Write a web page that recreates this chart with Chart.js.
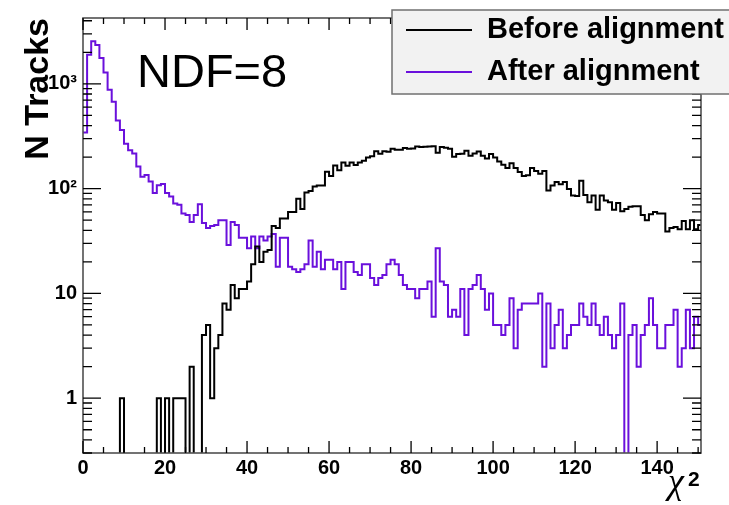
<!DOCTYPE html>
<html>
<head>
<meta charset="utf-8">
<script src="https://cdn.jsdelivr.net/npm/chart.js@4/dist/chart.umd.min.js"></script>
<style>
html,body{margin:0;padding:0;background:#ffffff;}
#wrap{width:729px;height:505px;position:relative;overflow:hidden;}
</style>
</head>
<body>
<div id="wrap"><canvas id="c" width="729" height="505"></canvas></div>
<script>
// ---- data (chi2 histogram, 1-unit bins starting at 0) ----
const seriesLabels = ['Before alignment', 'After alignment'];
const seriesColors = ['#000000', '#6a10dc'];

const beforeCounts = [
  0,0,0,0,0,0,0,0,0,1,
  0,0,0,0,0,0,0,0,1,0,
  1,0,1,1,1,0,2,0,0,4,
  5,1,3,4,8,7,12,9,11,11,
  13,19,28,20,25,26,44,42,52,52,
  60,60,80,64,92,95,105,107,107,145,
  132,166,150,178,165,178,168,178,185,198,
  204,228,215,228,225,240,235,235,244,240,
  242,252,250,251,252,254,220,250,246,240,
  202,214,215,230,206,216,226,206,194,214,
  198,182,169,157,175,157,144,132,134,157,
  147,139,147,96,107,116,110,116,99,86,
  85,119,87,74,86,63,86,77,74,63,
  73,61,64,67,68,68,56,50,57,60,
  58,58,39,42,43,41,49,41,50,41,
  45
];

const afterCounts = [
  344,1895,2555,2345,1763,1280,880,675,448,362,
  268,233,217,163,130,135,117,91,108,111,
  91,84,72,70,58,56,48,56,71,47,
  42,44,45,50,50,29,48,45,34,34,
  27,35,27,35,32,35,37,18,34,34,
  18,17,16,17,19,32,18,25,17,21,
  21,17,20,11,20,20,16,15,19,19,
  14,12,14,15,19,21,19,15,12,11,
  11,9,11,11,13,6,27,13,12,6,
  7,6,11,4,11,12,15,11,7,10,
  5,5,4,5,9,3,7,8,8,8,
  8,10,2,8,3,5,7,3,4,5,
  5,8,6,5,8,5,4,6,4,3,
  4,8,0,4,5,2,4,5,9,5,
  3,3,5,5,7,2,3,7,3,6,
  5
];

const xTickValues = [0, 20, 40, 60, 80, 100, 120, 140];
const yTickValues = [1, 10, 100, 1000];
const yTickLabels = ['1', '10', '10\u00B2', '10\u00B3'];
const yAxisTitle = 'N Tracks';
const xAxisTitleMain = '\u03C7';
const xAxisTitleSup = '2';
const annotationText = 'NDF=8';

// ---- build step-histogram points (low bin edges + closing edge) ----
function histPoints(counts) {
  const pts = counts.map((c, i) => ({x: i, y: c > 0 ? c : 0.05}));
  const last = counts[counts.length - 1];
  pts.push({x: counts.length, y: last > 0 ? last : 0.05});
  return pts;
}

const FONT = 'Liberation Sans';

const rootStyle = {
  id: 'rootStyle',
  afterDatasetsDraw(chart) {
    const {ctx, chartArea: a, scales: {x, y}} = chart;
    ctx.save();
    // frame
    ctx.strokeStyle = '#505050';
    ctx.lineWidth = 1.6;
    ctx.strokeRect(a.left, a.top, a.right - a.left, a.bottom - a.top);
    // ticks
    ctx.strokeStyle = '#000000';
    ctx.lineWidth = 1.3;
    ctx.beginPath();
    for (let v = 0; v <= x.max + 1e-6; v += 5) {
      const px = x.getPixelForValue(v);
      const major = v % 20 === 0;
      ctx.moveTo(px, a.bottom); ctx.lineTo(px, a.bottom - (major ? 12 : 6));
      ctx.moveTo(px, a.top); ctx.lineTo(px, a.top + (major ? 12 : 6));
    }
    for (let e = -1; e <= 3; e++) {
      for (let m = 1; m <= 9; m++) {
        const v = m * Math.pow(10, e);
        if (v < y.min || v > y.max) continue;
        const py = y.getPixelForValue(v);
        const len = m === 1 ? 18 : 9;
        ctx.moveTo(a.left, py); ctx.lineTo(a.left + len, py);
        ctx.moveTo(a.right, py); ctx.lineTo(a.right - len, py);
      }
    }
    ctx.stroke();

    // legend box
    const lx = 392, ly = 10, lw = 345, lh = 84;
    ctx.fillStyle = '#f2f2f2';
    ctx.fillRect(lx, ly, lw, lh);
    ctx.strokeStyle = '#707070';
    ctx.lineWidth = 1.5;
    ctx.strokeRect(lx, ly, lw, lh);
    const rows = [30, 72];
    chart.data.datasets.forEach((ds, i) => {
      ctx.strokeStyle = ds.borderColor;
      ctx.lineWidth = 2;
      ctx.beginPath();
      ctx.moveTo(406, rows[i]); ctx.lineTo(472, rows[i]);
      ctx.stroke();
      ctx.fillStyle = '#000000';
      ctx.font = 'bold 29px "' + FONT + '"';
      ctx.textAlign = 'left';
      ctx.textBaseline = 'middle';
      ctx.fillText(ds.label, 487, rows[i]);
    });

    // NDF annotation
    ctx.fillStyle = '#000000';
    ctx.font = '47px "' + FONT + '"';
    ctx.textAlign = 'left';
    ctx.textBaseline = 'alphabetic';
    ctx.fillText(annotationText, 137, 87);

    // x-axis title chi^2
    ctx.font = 'italic 36px "Liberation Serif"';
    ctx.textAlign = 'left';
    ctx.fillText(xAxisTitleMain, 668, 493);
    ctx.font = 'bold 21px "' + FONT + '"';
    ctx.fillText(xAxisTitleSup, 688, 486);
    ctx.restore();
  }
};

const chart = new Chart(document.getElementById('c'), {
  type: 'line',
  data: {
    datasets: [
      {
        label: seriesLabels[0],
        data: histPoints(beforeCounts),
        borderColor: seriesColors[0],
        borderWidth: 2,
        stepped: 'before',
        pointRadius: 0,
        fill: false,
        borderJoinStyle: 'miter',
        borderCapStyle: 'butt'
      },
      {
        label: seriesLabels[1],
        data: histPoints(afterCounts),
        borderColor: seriesColors[1],
        borderWidth: 2,
        stepped: 'before',
        pointRadius: 0,
        fill: false,
        borderJoinStyle: 'miter',
        borderCapStyle: 'butt'
      }
    ]
  },
  options: {
    responsive: false,
    animation: false,
    devicePixelRatio: 1,
    layout: {padding: {left: 0, top: 10, right: 28, bottom: 0}},
    plugins: {legend: {display: false}, tooltip: {enabled: false}},
    scales: {
      x: {
        type: 'linear',
        min: 0,
        max: 150.7,
        grid: {display: false, drawTicks: false},
        border: {display: false},
        afterBuildTicks: s => { s.ticks = xTickValues.map(v => ({value: v})); },
        afterFit: s => { s.height = 52; },
        ticks: {
          autoSkip: false, maxRotation: 0, padding: 3, color: '#000000',
          font: {family: FONT, size: 20, weight: 'bold'}
        }
      },
      y: {
        type: 'logarithmic',
        min: 0.34,
        max: 4250,
        grid: {display: false, drawTicks: false},
        border: {display: false},
        afterBuildTicks: s => { s.ticks = yTickValues.map(v => ({value: v})); },
        afterFit: s => { s.width = 83; },
        ticks: {
          padding: 6, color: '#000000',
          font: {family: FONT, size: 20, weight: 'bold'},
          callback: (v) => { const i = yTickValues.indexOf(v); return i >= 0 ? yTickLabels[i] : ''; }
        },
        title: {
          display: true, text: yAxisTitle, align: 'end', color: '#000000',
          padding: {top: 18, bottom: 0},
          font: {family: FONT, size: 34, weight: 'bold'}
        }
      }
    }
  },
  plugins: [rootStyle]
});
</script>
</body>
</html>
